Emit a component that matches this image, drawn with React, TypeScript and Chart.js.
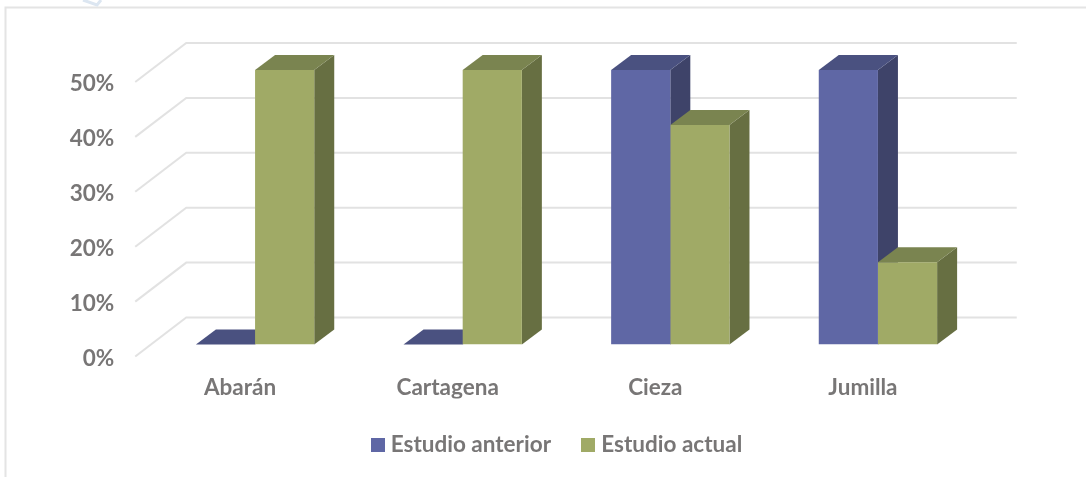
import React, { useEffect, useRef } from "react";
import { Chart, registerables } from "chart.js";

Chart.register(...registerables);

const categories = ["Abarán", "Cartagena", "Cieza", "Jumilla"];
const estudioAnterior = [0, 0, 50, 50];
const estudioActual = [50, 50, 40, 15];
const seriesNames = ["Estudio anterior", "Estudio actual"];

const FRONT = ["#5F67A5", "#A0AA66"];
const TOP = ["#4A5180", "#7A8450"];
const SIDE = ["#3E4369", "#676F42"];
const TEXT = "#787676";
const GRID = "#E2E2E2";
const FONT = "Lato, sans-serif";
const FONT_SIZE = 22.5;

const DEPTH_X = 20;
const DEPTH_Y = 15;
const LEGEND_SHIFT = 53;

function swatch(color: string) {
  const c = document.createElement("canvas");
  c.width = 14;
  c.height = 14;
  const g = c.getContext("2d")!;
  g.fillStyle = color;
  g.fillRect(0, 0, 14, 14);
  return c;
}

const decor = {
  id: "decor",
  afterLayout(chart: any) {
    chart.legend.left += LEGEND_SHIFT;
    chart.legend.right += LEGEND_SHIFT;
  },
  beforeDraw(chart: any) {
    const { ctx, width, height } = chart;
    ctx.save();
    ctx.fillStyle = "#FFFFFF";
    ctx.fillRect(0, 0, width, height);
    ctx.strokeStyle = "#E4E4E4";
    ctx.lineWidth = 2;
    ctx.beginPath();
    ctx.moveTo(5.5, height);
    ctx.lineTo(5.5, 7.5);
    ctx.lineTo(width, 7.5);
    ctx.stroke();
    ctx.strokeStyle = "#DCE6F1";
    ctx.lineWidth = 3;
    ctx.beginPath();
    ctx.moveTo(83, 0);
    ctx.lineTo(97, 5);
    ctx.lineTo(101, 0);
    ctx.stroke();
    ctx.restore();
  },
  beforeDatasetsDraw(chart: any) {
    const { ctx, chartArea, scales } = chart;
    const y = scales.y;
    const backLeft = chartArea.left + 35;
    const backRight = chartArea.right + 35;
    const frontLeft = chartArea.left - 16;
    ctx.save();
    ctx.strokeStyle = GRID;
    ctx.lineWidth = 2;
    y.ticks.forEach((t: any) => {
      const py = y.getPixelForValue(t.value);
      ctx.beginPath();
      ctx.moveTo(frontLeft, py + 12);
      ctx.lineTo(backLeft, py - 27);
      ctx.lineTo(backRight, py - 27);
      ctx.stroke();
    });
    chart.data.datasets.forEach((_: any, di: number) => {
      chart.getDatasetMeta(di).data.forEach((bar: any) => {
        const { x, y: top, base, width } = bar.getProps(["x", "y", "base", "width"], true);
        const l = x - width / 2;
        const r = x + width / 2;
        ctx.fillStyle = SIDE[di];
        ctx.beginPath();
        ctx.moveTo(r, top);
        ctx.lineTo(r + DEPTH_X, top - DEPTH_Y);
        ctx.lineTo(r + DEPTH_X, base - DEPTH_Y);
        ctx.lineTo(r, base);
        ctx.closePath();
        ctx.fill();
        ctx.fillStyle = TOP[di];
        ctx.beginPath();
        ctx.moveTo(l, top);
        ctx.lineTo(l + DEPTH_X, top - DEPTH_Y);
        ctx.lineTo(r + DEPTH_X, top - DEPTH_Y);
        ctx.lineTo(r, top);
        ctx.closePath();
        ctx.fill();
      });
    });
    ctx.restore();
  },
};

export default function App() {
  const ref = useRef<HTMLCanvasElement>(null);
  useEffect(() => {
    document.body.style.margin = "0";
    const chart = new Chart(ref.current!, {
      type: "bar",
      data: {
        labels: categories,
        datasets: [
          { label: seriesNames[0], data: estudioAnterior, backgroundColor: FRONT[0] },
          { label: seriesNames[1], data: estudioActual, backgroundColor: FRONT[1] },
        ],
      },
      options: {
        responsive: false,
        animation: false,
        layout: { padding: { left: 30, right: 104.25, top: 70, bottom: 11 } },
        datasets: { bar: { categoryPercentage: 0.57, barPercentage: 1 } },
        plugins: {
          tooltip: { enabled: false },
          legend: {
            position: "bottom",
            labels: {
              usePointStyle: true,
              pointStyleWidth: 4,
              boxHeight: 14,
              padding: 35,
              color: TEXT,
              font: { family: FONT, size: FONT_SIZE, weight: "bold" },
              generateLabels: (c: any) =>
                c.data.datasets.map((d: any, i: number) => ({
                  text: d.label,
                  fontColor: TEXT,
                  pointStyle: swatch(FRONT[i]),
                  datasetIndex: i,
                })),
            },
          },
        },
        scales: {
          x: {
            grid: { display: false },
            border: { display: false },
            afterFit(s: any) {
              s.height = 54;
            },
            ticks: {
              color: TEXT,
              padding: 22,
              labelOffset: -15,
              maxRotation: 0,
              font: { family: FONT, size: FONT_SIZE, weight: "bold" },
            },
          },
          y: {
            min: 0,
            max: 50,
            grid: { display: false, drawTicks: false },
            border: { display: false },
            afterFit(s: any) {
              s.width = 121.25;
            },
            ticks: {
              stepSize: 10,
              color: TEXT,
              padding: 37,
              labelOffset: 14,
              callback: (v: any) => v + "%",
              font: { family: FONT, size: FONT_SIZE, weight: "bold" },
            },
          },
        },
      },
      plugins: [decor],
    } as any);
    return () => chart.destroy();
  }, []);
  return <canvas ref={ref} width={1086} height={477} style={{ display: "block" }} />;
}
